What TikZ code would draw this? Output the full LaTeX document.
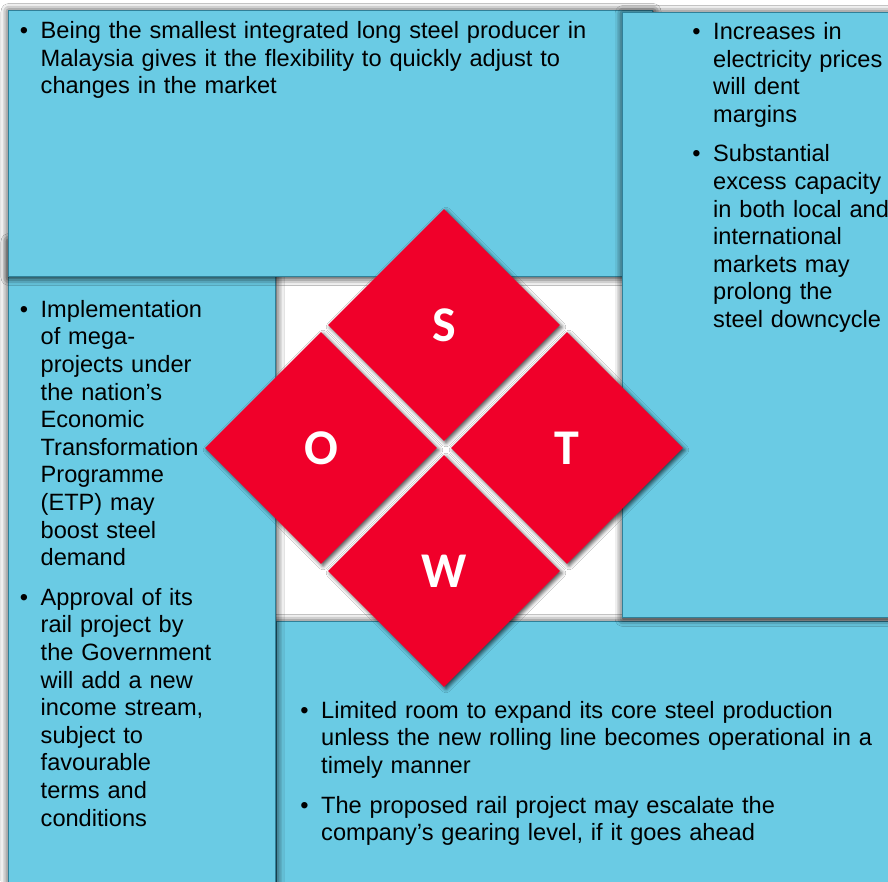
\documentclass[tikz,border=0pt]{standalone}
\usepackage{fontspec}
\setmainfont{Liberation Sans}
\newfontfamily\lettersans{Carlito}
\usetikzlibrary{shapes.geometric,shadows.blur}

\definecolor{swotblue}{RGB}{106,203,228}
\definecolor{swotedge}{RGB}{48,128,152}
\definecolor{swotred}{RGB}{240,0,42}

% 项目符号
\newcommand{\bul}{\leavevmode\llap{\textbullet\hspace{12.5pt}}}

\begin{document}
\begin{tikzpicture}[x=1pt, y=-1pt,
    panel/.style={fill=swotblue, draw=swotedge, line width=1pt,
      blur shadow={shadow xshift=1pt, shadow yshift=-1.5pt, shadow blur radius=8pt, shadow opacity=100}},
    petal/.style={diamond, aspect=1, minimum size=232pt, inner sep=0pt, fill=swotred,
      text=white, font=\lettersans\bfseries\fontsize{50}{50}\selectfont,
      blur shadow={shadow xshift=2pt, shadow yshift=-2pt, shadow blur radius=4pt, shadow opacity=70}},
    points/.style={anchor=base west, align=left, text width=580pt, inner sep=0pt,
      font=\fontsize{23.6}{27.6}\selectfont}]
    % 画布范围
    \useasboundingbox (0,0) rectangle (888,881);
    \clip (0,0) rectangle (888,881);
    \fill[white] (0,0) rectangle (888,881);

    % 四块面板 (W 在最下, 依次叠放 O, S, T)
    \path[panel] (276,621) rectangle (910,905);
    \path[panel] (8,240) rectangle (275,905);
    \path[panel] (8,10) rectangle (652,276);
    \path[panel] (622,12) rectangle (910,617);

    % 中心的四个菱形
    \node[petal] (S) at (444,325) {S};
    \node[petal] (O) at (321,448) {O};
    \node[petal] (T) at (567,448) {T};
    \node[petal] (W) at (444,571) {W};

    % 各面板文字
    \node[points] (strengths) at (40.5,38.5) {\bul Being the smallest integrated long steel producer in\\Malaysia gives it the flexibility to quickly adjust to\\changes in the market};
    \node[points] (threats) at (713,39.5) {\bul Increases in\\electricity prices\\will dent\\margins\\[12pt]\bul Substantial\\excess capacity\\in both local and\\international\\markets may\\prolong the\\steel downcycle};
    \node[points] (opportunities) at (40.5,317.3) {\bul Implementation\\of mega-\\projects under\\the nation’s\\Economic\\Transformation\\Programme\\(ETP) may\\boost steel\\demand\\[12pt]\bul Approval of its\\rail project by\\the Government\\will add a new\\income stream,\\subject to\\favourable\\terms and\\conditions};
    \node[points] (weaknesses) at (321,718.3) {\bul Limited room to expand its core steel production\\unless the new rolling line becomes operational in a\\timely manner\\[12pt]\bul The proposed rail project may escalate the\\company’s gearing level, if it goes ahead};
\end{tikzpicture}
\end{document}
